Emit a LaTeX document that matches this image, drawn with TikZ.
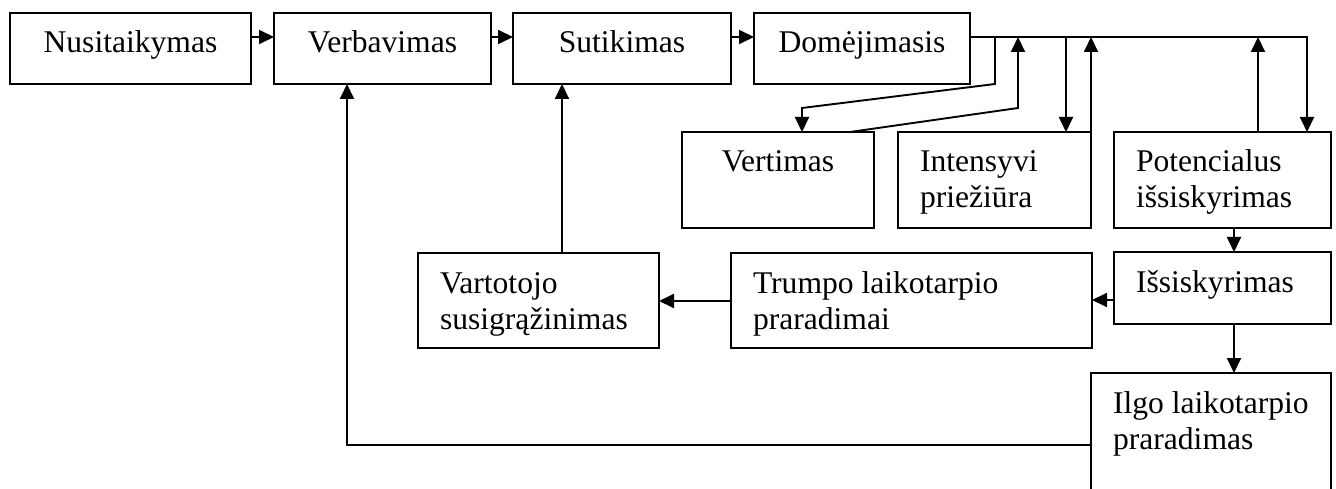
\documentclass[tikz,border=0pt]{standalone}
\usepackage{fontspec}
\setmainfont{Liberation Serif}
\usetikzlibrary{arrows.meta}
% box contents: fixed-size parbox, first baseline 40pt below the top edge
\newcommand\txtC[3]{\parbox[c][#2][t]{#1}{\centering\rule{0pt}{40pt}#3\par}}
\newcommand\txtL[3]{\parbox[c][#2][t]{#1}{\raggedright\leftskip=22pt\rule{0pt}{40pt}#3\par}}
\begin{document}
\begin{tikzpicture}[x=1pt,y=-1pt,
  box/.style={draw, line width=1.9pt, inner sep=0pt, outer sep=0pt,
              anchor=north west, font=\fontsize{31.6}{36}\selectfont},
  arr/.style={line width=1.9pt, -{Triangle[length=15pt,width=14pt]}}]
\clip (0,0) rectangle (1336,489);
\fill[white] (0,0) rectangle (1336,489);

% top row
\node[box] (nus) at (10,13)  {\txtC{241pt}{71pt}{Nusitaikymas}};
\node[box] (ver) at (274,13) {\txtC{217pt}{71pt}{Verbavimas}};
\node[box] (sut) at (513,13) {\txtC{218pt}{71pt}{Sutikimas}};
\node[box] (dom) at (754,13) {\txtC{216pt}{71pt}{Domėjimasis}};

% second row
\node[box] (vrt) at (682,132)  {\txtC{192pt}{96pt}{Vertimas}};
\node[box] (int) at (898,132)  {\txtL{193pt}{96pt}{Intensyvi\\priežiūra}};
\node[box] (pot) at (1114,132) {\txtL{217pt}{96pt}{Potencialus\\išsiskyrimas}};

% third row
\node[box] (var) at (418,253)  {\txtL{241pt}{95pt}{Vartotojo\\susigrąžinimas}};
\node[box] (tru) at (731,253)  {\txtL{361pt}{95pt}{Trumpo laikotarpio\\praradimai}};
\node[box] (isk) at (1114,252) {\txtL{217pt}{72pt}{Išsiskyrimas}};

% bottom
\node[box] (ilg) at (1091,373) {\txtL{240pt}{140pt}{Ilgo laikotarpio\\praradimas}};

% routing points
\coordinate (yr)  at (0,37);
\coordinate (xR)  at (1307,0);
\coordinate (k1)  at (995,84);
\coordinate (k2)  at (802,108);
\coordinate (k3)  at (850,0);
\coordinate (k4)  at (1018,108);
\coordinate (k5)  at (1066,0);
\coordinate (k6)  at (1258,0);
\coordinate (k7)  at (1234,0);
\coordinate (k8)  at (0,300);
\coordinate (k9)  at (0,301);
\coordinate (k10) at (347,445);
\coordinate (k11) at (562,0);

% top row chain
\draw[arr] (nus.east |- yr) -- (ver.west |- yr);
\draw[arr] (ver.east |- yr) -- (sut.west |- yr);
\draw[arr] (sut.east |- yr) -- (dom.west |- yr);

% bus from Domėjimasis
\draw[arr] (dom.east |- yr) -| (pot.north -| xR);
\draw[arr] (k1 |- yr) -- (k1) -- (k2) -- (vrt.north -| k2);
\draw[arr] (vrt.north -| k3) -- (k4) -- (k4 |- yr);
\draw[arr] (k5 |- yr) -- (int.north -| k5);
\draw[arr] (int.north east) -- (int.north east |- yr);
\draw[arr] (pot.north -| k6) -- (k6 |- yr);

% lower flow
\draw[arr] (pot.south -| k7) -- (isk.north -| k7);
\draw[arr] (isk.south -| k7) -- (ilg.north -| k7);
\draw[arr] (isk.west |- k8) -- (tru.east |- k8);
\draw[arr] (tru.west |- k9) -- (var.east |- k9);
\draw[arr] (var.north -| k11) -- (sut.south -| k11);
\draw[arr] (ilg.west |- k10) -- (k10) -- (ver.south -| k10);
\end{tikzpicture}
\end{document}
